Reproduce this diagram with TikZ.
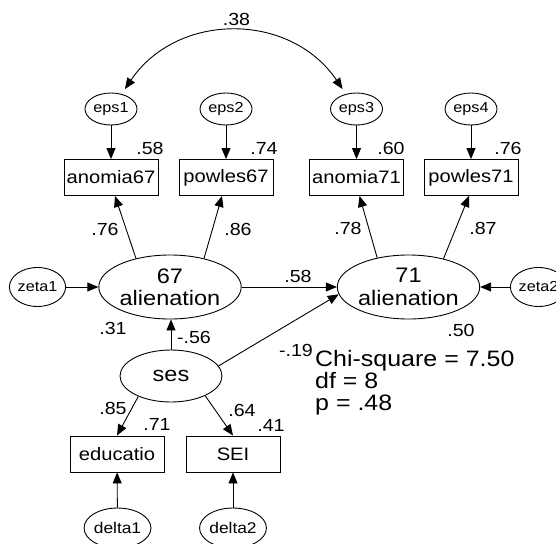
\documentclass[tikz,border=0pt]{standalone}
\usepackage{fontspec}
\setmainfont{Liberation Sans}[FakeStretch=1.12]
\usetikzlibrary{arrows.meta,shapes.geometric}
\begin{document}
\begin{tikzpicture}[x=1pt,y=1pt,
  lat/.style={ellipse, draw, line width=0.9pt, inner sep=0pt, align=center,
              font=\fontsize{21}{22.3}\selectfont},
  err/.style={ellipse, draw, line width=0.9pt, inner sep=0pt,
              font=\fontsize{14.5}{16}\selectfont},
  obs/.style={rectangle, draw, line width=0.9pt, minimum width=94pt,
              minimum height=36pt, inner sep=0pt, font=\fontsize{18}{20}\selectfont},
  lbl/.style={inner sep=0pt, font=\fontsize{17.5}{20}\selectfont},
  arr/.style={-{Triangle[length=11pt,width=9pt]}, line width=0.9pt},
  dblarr/.style={{Triangle[length=11pt,width=9pt]}-{Triangle[length=11pt,width=9pt]}, line width=0.9pt},
  fitstat/.style={inner sep=0pt, anchor=base west, font=\fontsize{22.3}{24}\selectfont}]
\useasboundingbox (0,0) rectangle (556,-543);
\clip (0,0) rectangle (556,-543);

% error terms of indicators
\node[err, minimum width=52pt, minimum height=32pt] (eps1) at (111,-109) {eps1};
\node[err, minimum width=52pt, minimum height=32pt] (eps2) at (226,-109) {eps2};
\node[err, minimum width=52pt, minimum height=32pt] (eps3) at (356.5,-109) {eps3};
\node[err, minimum width=52pt, minimum height=32pt] (eps4) at (471,-109) {eps4};

% observed variables
\node[obs] (anomia67) at (111,-177.5) {anomia67};
\node[obs] (powles67) at (226,-177.5) {powles67};
\node[obs] (anomia71) at (356.5,-177.5) {anomia71};
\node[obs] (powles71) at (471,-177.5) {powles71};
\node[obs] (educatio) at (117,-454) {educatio};
\node[obs] (SEI) at (233,-454) {SEI};

% latent variables
\node[lat, minimum width=138pt, minimum height=64pt] (al67) at (170,-287) {67\\alienation};
\node[lat, minimum width=139pt, minimum height=64pt] (al71) at (408.5,-287) {71\\alienation};
\node[lat, minimum width=102pt, minimum height=52pt] (ses) at (171,-376) {ses};

% disturbances
\node[err, minimum width=51pt, minimum height=39pt] (zeta1) at (37.5,-287) {zeta1};
\node[err, minimum width=51pt, minimum height=39pt] (zeta2) at (538.5,-287) {zeta2};
\node[err, minimum width=51pt, minimum height=40pt, font=\fontsize{15.5}{17}\selectfont] (delta1) at (117.5,-528) {delta1};
\node[err, minimum width=51pt, minimum height=40pt, font=\fontsize{15.5}{17}\selectfont] (delta2) at (233,-528) {delta2};

% connectors
\draw[dblarr] ([yshift=6pt]eps1.45) to[out=56,in=124,looseness=1.1] ([yshift=6pt]eps3.135);
\draw[arr] (eps1) -- (anomia67);
\draw[arr] (eps2) -- (powles67);
\draw[arr] (eps3) -- (anomia71);
\draw[arr] (eps4) -- (powles71);
\draw[arr] (al67.140) -- ([xshift=4pt]anomia67.south);
\draw[arr] (al67.40) -- ([xshift=-4pt]powles67.south);
\draw[arr] (al71.137) -- ([xshift=3pt]anomia71.south);
\draw[arr] (al71.39) -- ([xshift=-2pt]powles71.south);
\draw[arr] (zeta1) -- (al67);
\draw[arr] (zeta2) -- (al71);
\draw[arr] (al67) -- (al71);
\draw[arr] (ses.north) -- (ses.north |- al67.south);
\draw[arr] (ses.12) -- (al71.186);
\draw[arr] (ses.212) -- (educatio.north);
\draw[arr] (ses.330) -- (SEI.north);
\draw[arr] (delta1) -- (educatio);
\draw[arr] (delta2) -- (SEI);

% coefficient labels
\node[lbl] (l38) at (236.5,-19) {.38};
\node[lbl] (r58) at (150,-148) {.58};
\node[lbl] (r74) at (264,-148) {.74};
\node[lbl] (r60) at (391,-148) {.60};
\node[lbl] (r76) at (508,-148) {.76};
\node[lbl] (l76) at (105,-229) {.76};
\node[lbl] (l86) at (238,-229) {.86};
\node[lbl] (l78) at (348,-228) {.78};
\node[lbl] (l87) at (483,-228) {.87};
\node[lbl] (l58) at (298,-276) {.58};
\node[lbl] (r31) at (113,-328) {.31};
\node[lbl] (l56) at (194,-337) {-.56};
\node[lbl] (r50) at (461,-330) {.50};
\node[lbl] (l19) at (296,-350) {-.19};
\node[lbl] (l85) at (113,-408) {.85};
\node[lbl] (r71) at (157,-424) {.71};
\node[lbl] (l64) at (242,-410) {.64};
\node[lbl] (r41) at (271,-425) {.41};

% fit statistics
\node[fitstat] (chi) at (315,-366.7) {Chi-square = 7.50};
\node[fitstat] (df) at (315,-388.3) {df = 8};
\node[fitstat] (pval) at (315,-410) {p = .48};
\end{tikzpicture}
\end{document}
